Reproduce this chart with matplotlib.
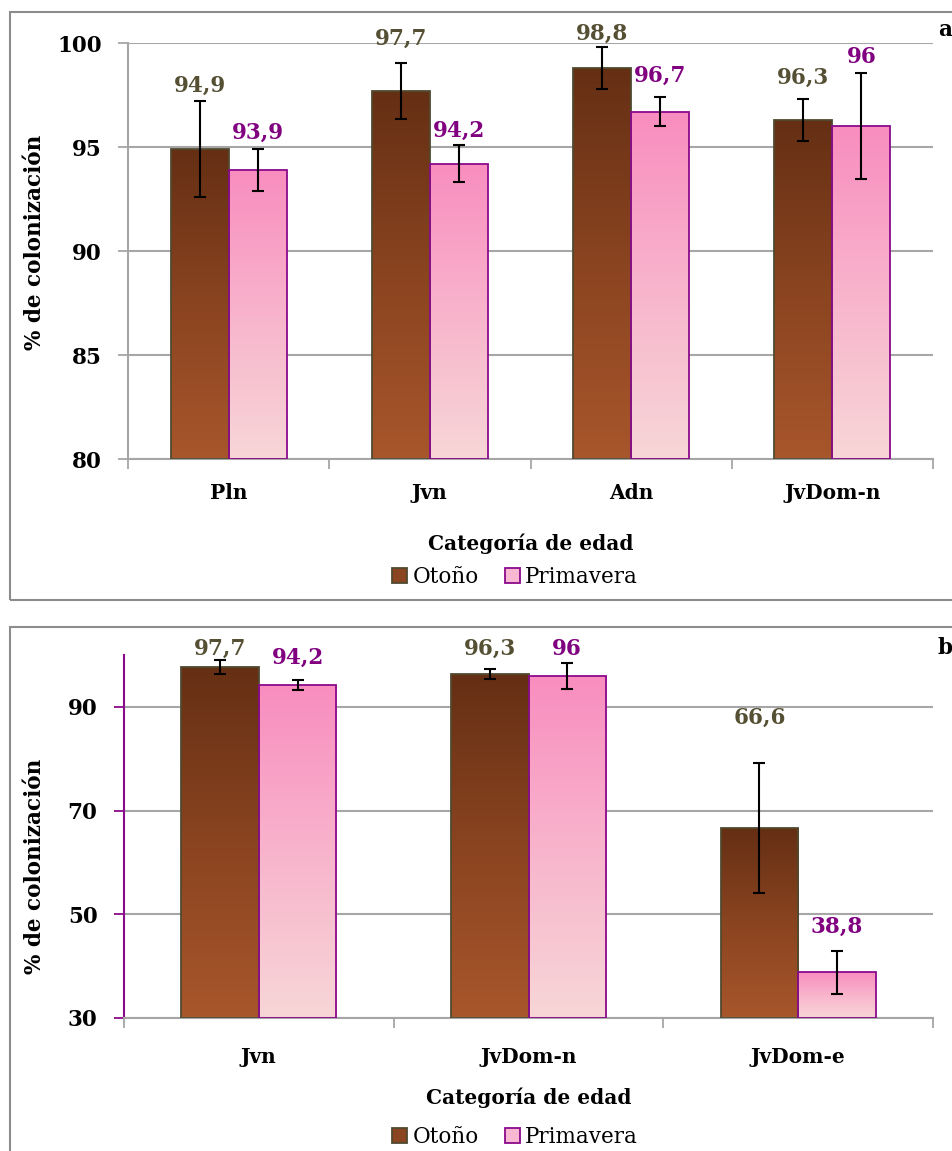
"""Colonización por categoría de edad: otoño vs primavera (paneles a y b)."""

import matplotlib
matplotlib.use("Agg")
import matplotlib.pyplot as plt  # noqa: E402
import matplotlib.patches as mpatches  # noqa: E402
from matplotlib.colors import LinearSegmentedColormap  # noqa: E402
import numpy as np  # noqa: E402

plt.rcParams["font.family"] = ["DejaVu Serif"]

# panel a
cats_a = ["Pln", "Jvn", "Adn", "JvDom-n"]
otono_a = [94.9, 97.7, 98.8, 96.3]
prim_a = [93.9, 94.2, 96.7, 96.0]
otono_a_err = [2.3, 1.35, 1.0, 1.0]
prim_a_err = [1.0, 0.9, 0.7, 2.55]
otono_a_lbl = ["94,9", "97,7", "98,8", "96,3"]
prim_a_lbl = ["93,9", "94,2", "96,7", "96"]

# panel b
cats_b = ["Jvn", "JvDom-n", "JvDom-e"]
otono_b = [97.7, 96.3, 66.6]
prim_b = [94.2, 96.0, 38.8]
otono_b_err = [1.35, 1.0, 12.5]
prim_b_err = [0.9, 2.55, 4.2]
otono_b_lbl = ["97,7", "96,3", "66,6"]
prim_b_lbl = ["94,2", "96", "38,8"]

# label offsets above the error bar tops, in pixels
OFF_A_OTONO = [15, 24, 13, 21]
OFF_A_PRIM = [16, 14, 21, 16]
OFF_B_OTONO = [11, 20, 46]
OFF_B_PRIM = [23, 14, 24]

BROWN_CMAP = LinearSegmentedColormap.from_list("brown", ["#A8562B", "#8A4420", "#652F14"])
PINK_CMAP = LinearSegmentedColormap.from_list("pink", ["#F7D6D7", "#F8B4CC", "#F98DBF"])
BROWN_EDGE = "#4F4A30"
PINK_EDGE = "#8B0A8B"
BROWN_TXT = "#555034"
PINK_TXT = "#800080"
GRID = "#A6A6A6"

W, H = 952, 1151
fig = plt.figure(figsize=(W / 100, H / 100), dpi=100)


def px_box(x0, y0, x1, y1):
    """Pixel box (top-left origin) -> figure rect [l, b, w, h]."""
    return [x0 / W, 1 - y1 / H, (x1 - x0) / W, (y1 - y0) / H]


def gradient_bars(ax, x, vals, width, base, cmap, edge):
    bars = ax.bar(x, np.array(vals) - base, width, bottom=base, facecolor="none",
                  edgecolor=edge, linewidth=1.3, zorder=3)
    grad = np.linspace(0, 1, 256).reshape(-1, 1)
    for b in bars:
        x0, y0 = b.get_x(), b.get_y()
        im = ax.imshow(grad, cmap=cmap, origin="lower", aspect="auto",
                       extent=[x0, x0 + b.get_width(), y0, y0 + b.get_height()],
                       zorder=2, interpolation="bilinear")
        im.set_clip_path(b)
    return bars


def draw_panel(ax, cats, otono, prim, oerr, perr, olbl, plbl, ooff, poff,
               ylim, yticks, spine_col, width, xpad, lpad):
    x = np.arange(len(cats))
    base = ylim[0]
    gradient_bars(ax, x - width / 2, otono, width, base, BROWN_CMAP, BROWN_EDGE)
    gradient_bars(ax, x + width / 2, prim, width, base, PINK_CMAP, PINK_EDGE)
    ax.errorbar(x - width / 2, otono, yerr=oerr, fmt="none", ecolor="black",
                elinewidth=1.5, capsize=4.5, capthick=1.5, zorder=4)
    ax.errorbar(x + width / 2, prim, yerr=perr, fmt="none", ecolor="black",
                elinewidth=1.5, capsize=4.5, capthick=1.5, zorder=4)
    for i in range(len(cats)):
        ax.annotate(olbl[i], (x[i] - width / 2, otono[i] + oerr[i]),
                    xytext=(0, ooff[i]), textcoords="offset pixels",
                    ha="center", va="center", fontsize=15.5, fontweight="bold",
                    color=BROWN_TXT, zorder=5, annotation_clip=False)
        ax.annotate(plbl[i], (x[i] + width / 2, prim[i] + perr[i]),
                    xytext=(0, poff[i]), textcoords="offset pixels",
                    ha="center", va="center", fontsize=15.5, fontweight="bold",
                    color=PINK_TXT, zorder=5, annotation_clip=False)

    ax.set_xlim(-0.5, len(cats) - 0.5)
    ax.set_ylim(*ylim)
    ax.set_yticks(yticks)
    ax.set_yticklabels([str(t) for t in yticks], fontsize=15.5, fontweight="bold")
    ax.yaxis.grid(True, color=GRID, linewidth=1.5, zorder=0)
    ax.set_axisbelow(True)
    ax.tick_params(axis="y", length=7, width=1.3, color=spine_col, pad=12)

    ax.set_xticks(x)
    ax.set_xticklabels(cats, fontsize=14.5, fontweight="bold")
    ax.tick_params(axis="x", which="major", length=0, pad=xpad)
    ax.set_xticks(np.arange(len(cats) + 1) - 0.5, minor=True)
    ax.tick_params(axis="x", which="minor", length=7, width=1.3, color=GRID)

    for s in ("top", "right"):
        ax.spines[s].set_visible(False)
    ax.spines["bottom"].set_color(GRID)
    ax.spines["bottom"].set_linewidth(1.5)
    ax.spines["left"].set_color(spine_col)
    ax.spines["left"].set_linewidth(1.5)

    ax.set_xlabel("Categoría de edad", fontsize=14.5, fontweight="bold", labelpad=lpad)
    ax.set_ylabel("% de colonización", fontsize=15.5, fontweight="bold")

    handles = [mpatches.Patch(facecolor="#8A4420", edgecolor=BROWN_EDGE, linewidth=1.3, label="Otoño"),
               mpatches.Patch(facecolor="#F9B8D2", edgecolor=PINK_EDGE, linewidth=1.3, label="Primavera")]
    return handles


# panel frames
fig.add_artist(mpatches.Rectangle((10 / W, 1 - 600 / H), 1.0, (600 - 12) / H,
                                  transform=fig.transFigure, fill=False,
                                  edgecolor="#8C8C8C", linewidth=1.5))
fig.add_artist(mpatches.Rectangle((10 / W, -0.05), 1.0, 0.05 + (H - 627) / H,
                                  transform=fig.transFigure, fill=False,
                                  edgecolor="#8C8C8C", linewidth=1.5))

ax_a = fig.add_axes(px_box(128, 43, 933, 459))
h = draw_panel(ax_a, cats_a, otono_a, prim_a, otono_a_err, prim_a_err,
               otono_a_lbl, prim_a_lbl, OFF_A_OTONO, OFF_A_PRIM,
               (80, 100), [80, 85, 90, 95, 100], GRID, 0.288, 17, 22.5)
ax_a.yaxis.set_label_coords((46 - 128) / 805, (459 - 242) / 416)
fig.legend(handles=h, loc="center", bbox_to_anchor=(515 / W, 1 - 577 / H),
           ncol=2, frameon=False, fontsize=15.5, handlelength=0.7, handleheight=0.7,
           handletextpad=0.25, columnspacing=1.2)
fig.text(938 / W, 1 - 30 / H, "a", fontsize=15.5, fontweight="bold", ha="left", va="center")

ax_b = fig.add_axes(px_box(124, 655, 933, 1018))
h = draw_panel(ax_b, cats_b, otono_b, prim_b, otono_b_err, prim_b_err,
               otono_b_lbl, prim_b_lbl, OFF_B_OTONO, OFF_B_PRIM,
               (30, 100), [30, 50, 70, 90], "#8B0A8B", 0.287, 21, 14.5)
ax_b.yaxis.set_label_coords((46 - 124) / 809, (1018 - 866) / 363)
fig.legend(handles=h, loc="center", bbox_to_anchor=(515 / W, 1 - 1137 / H),
           ncol=2, frameon=False, fontsize=15.5, handlelength=0.7, handleheight=0.7,
           handletextpad=0.25, columnspacing=1.2)
fig.text(938 / W, 1 - 648 / H, "b", fontsize=15.5, fontweight="bold", ha="left", va="center")

fig.savefig("out.png", dpi=100)
plt.close(fig)
